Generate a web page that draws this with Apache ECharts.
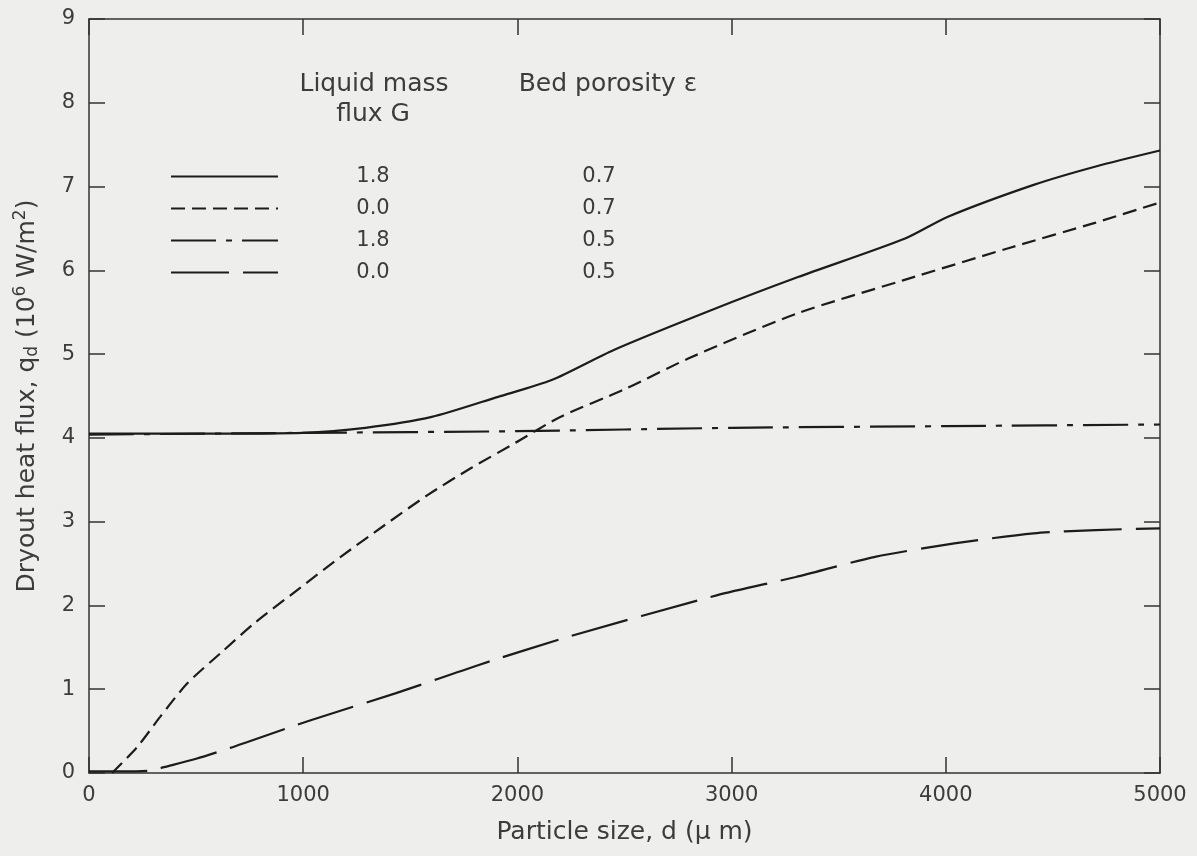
<!DOCTYPE html>
<html>
<head>
<meta charset="utf-8">
<script src="https://cdn.jsdelivr.net/npm/echarts@6/dist/echarts.min.js"></script>
<style>
html,body{margin:0;padding:0;background:#eeeeec;}
#chart{width:1197px;height:856px;}
</style>
</head>
<body>
<div id="chart"></div>
<script>
// ---- data ----
const xTicks = [0, 1000, 2000, 3000, 4000, 5000];
const yTicks = [0, 1, 2, 3, 4, 5, 6, 7, 8, 9];

const legendHeaderG = ['Liquid mass', 'flux G'];
const legendHeaderE = 'Bed porosity \u03b5';
const fluxG = ['1.8', '0.0', '1.8', '0.0'];
const porosity = ['0.7', '0.7', '0.5', '0.5'];
const seriesNames = ['G=1.8, e=0.7', 'G=0.0, e=0.7', 'G=1.8, e=0.5', 'G=0.0, e=0.5'];

// G=1.8, eps=0.7 (solid)
const dSolid = [0, 500, 1000, 1290, 1600, 1910, 2160, 2450, 2910, 3310, 3810, 4010, 4410, 4700, 5000];
const qSolid = [4.05, 4.05, 4.06, 4.12, 4.25, 4.49, 4.69, 5.05, 5.53, 5.92, 6.38, 6.64, 7.02, 7.24, 7.43];

// G=0.0, eps=0.7 (short dash)
const dDash = [108, 225, 332, 459, 614, 773, 960, 1175, 1381, 1582, 1784, 1990, 2200, 2500, 2800, 3300, 3800, 4300, 4700, 5000];
const qDash = [0.0, 0.31, 0.67, 1.07, 1.43, 1.79, 2.16, 2.58, 2.96, 3.32, 3.64, 3.94, 4.25, 4.58, 4.95, 5.48, 5.88, 6.27, 6.57, 6.81];

// G=1.8, eps=0.5 (dash-dot)
const dDashDot = [0, 1000, 2000, 3000, 4000, 5000];
const qDashDot = [4.04, 4.06, 4.08, 4.12, 4.14, 4.16];

// G=0.0, eps=0.5 (long dash)
const dLong = [0, 150, 290, 350, 500, 660, 740, 1035, 1430, 1820, 2230, 2930, 3300, 3670, 4040, 4410, 4700, 5000];
const qLong = [0.02, 0.02, 0.03, 0.07, 0.17, 0.3, 0.37, 0.63, 0.95, 1.29, 1.62, 2.12, 2.34, 2.58, 2.74, 2.86, 2.9, 2.92];

// ---- chart ----
const ink = '#1c1c1c';
const txt = '#3c3c3c';
const font = 'DejaVu Sans';
const pairs = (xs, ys) => xs.map((x, i) => [x, ys[i]]);
const dashStyles = ['solid', [14, 7], [45, 10, 6, 10], [58, 14]];
const datasets = [pairs(dSolid, qSolid), pairs(dDash, qDash), pairs(dDashDot, qDashDot), pairs(dLong, qLong)];

const chart = echarts.init(document.getElementById('chart'));
function axisBase() {
  return {
    type: 'value',
    axisLine: { show: true, onZero: false, lineStyle: { color: '#333', width: 1.5 } },
    axisTick: { show: true, inside: true, length: 16, lineStyle: { color: '#333', width: 1.5 } },
    splitLine: { show: false }
  };
}

chart.setOption({
  backgroundColor: '#eeeeec',
  animation: false,
  grid: { left: 89, right: 37, top: 19, bottom: 83 },
  legend: {
    orient: 'vertical',
    left: 170,
    top: 166,
    padding: 0,
    itemWidth: 107,
    itemHeight: 14,
    itemGap: 11,
    data: seriesNames,
    itemStyle: { opacity: 0 },
    formatter: function (name) {
      const i = seriesNames.indexOf(name);
      return '{a|' + fluxG[i] + '}{b|' + porosity[i] + '}';
    },
    textStyle: {
      rich: {
        a: { width: 180, align: 'center', fontSize: 21, fontFamily: font, color: txt, lineHeight: 20 },
        b: { width: 272, align: 'center', fontSize: 21, fontFamily: font, color: txt, lineHeight: 20 }
      }
    }
  },
  graphic: [
    { type: 'text', x: 374, y: 84, style: { text: legendHeaderG[0], font: '25px "DejaVu Sans"', fill: txt, align: 'center', verticalAlign: 'middle' } },
    { type: 'text', x: 373, y: 114, style: { text: legendHeaderG[1], font: '25px "DejaVu Sans"', fill: txt, align: 'center', verticalAlign: 'middle' } },
    { type: 'text', x: 608, y: 84, style: { text: legendHeaderE, font: '25px "DejaVu Sans"', fill: txt, align: 'center', verticalAlign: 'middle' } }
  ],
  xAxis: [
    Object.assign(axisBase(), {
      min: 0, max: 5000, interval: 1000,
      position: 'bottom',
      name: 'Particle size, d (\u03bc m)',
      nameLocation: 'middle',
      nameGap: 47,
      nameTextStyle: { fontSize: 25, fontFamily: font, color: txt },
      axisLabel: { margin: 12, fontSize: 21, fontFamily: font, color: txt,
        formatter: v => (xTicks.indexOf(v) >= 0 ? String(v) : '') }
    }),
    Object.assign(axisBase(), {
      min: 0, max: 5000, interval: 1000,
      position: 'top',
      axisLabel: { show: false }
    })
  ],
  yAxis: [
    Object.assign(axisBase(), {
      min: 0, max: 9, interval: 1,
      position: 'left',
      name: '{t|Dryout heat flux, q}{s|d}{t| (10}{p|6}{t| W/m}{p|2}{t|)}',
      nameLocation: 'middle',
      nameGap: 47,
      nameTextStyle: {
        rich: {
          t: { fontSize: 25, fontFamily: font, color: txt },
          s: { fontSize: 17, fontFamily: font, color: txt, padding: [11, 0, 0, 0] },
          p: { fontSize: 17, fontFamily: font, color: txt, padding: [0, 0, 13, 0] }
        }
      },
      axisLabel: { margin: 14, fontSize: 21, fontFamily: font, color: txt,
        formatter: v => (yTicks.indexOf(v) >= 0 ? String(v) : '') }
    }),
    Object.assign(axisBase(), {
      min: 0, max: 9, interval: 1,
      position: 'right',
      axisLabel: { show: false }
    })
  ],
  series: datasets.map((d, i) => ({
    name: seriesNames[i],
    type: 'line',
    data: d,
    smooth: 0.25,
    symbol: 'none',
    color: ink,
    lineStyle: { color: ink, width: 2.2, type: dashStyles[i] },
    z: 3
  }))
});
</script>
</body>
</html>
